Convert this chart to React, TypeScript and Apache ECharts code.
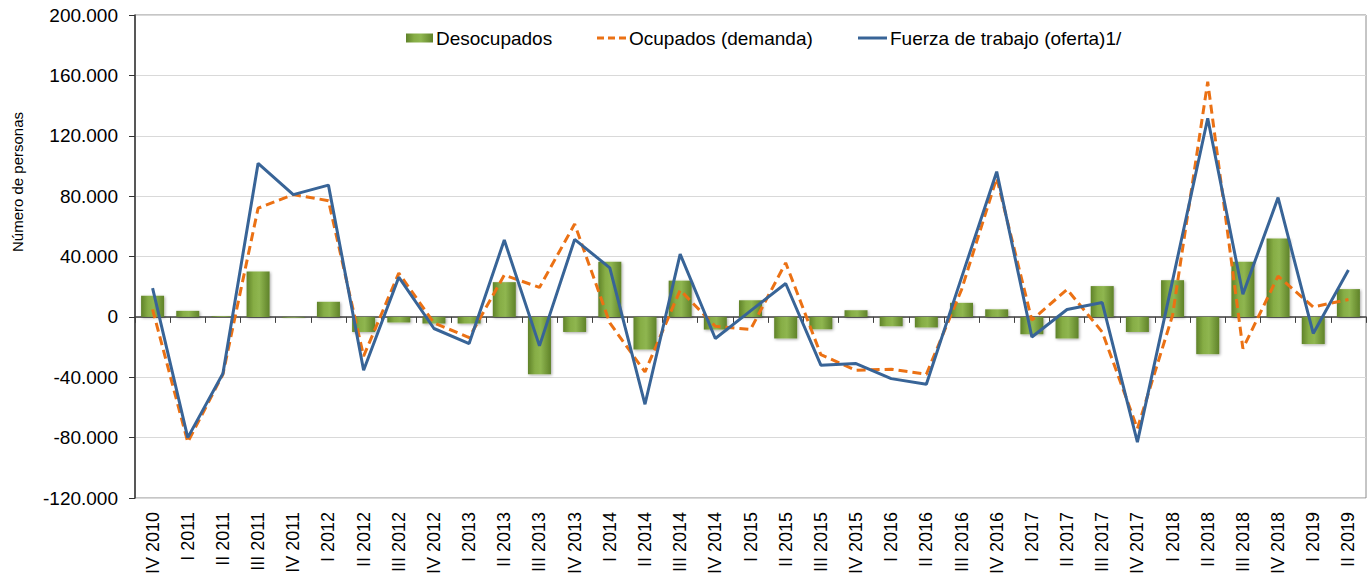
import React, { useEffect, useRef } from "react";
import * as echarts from "echarts";

const categories = [
  "IV 2010", "I 2011", "II 2011", "III 2011", "IV 2011",
  "I 2012", "II 2012", "III 2012", "IV 2012",
  "I 2013", "II 2013", "III 2013", "IV 2013",
  "I 2014", "II 2014", "III 2014", "IV 2014",
  "I 2015", "II 2015", "III 2015", "IV 2015",
  "I 2016", "II 2016", "III 2016", "IV 2016",
  "I 2017", "II 2017", "III 2017", "IV 2017",
  "I 2018", "II 2018", "III 2018", "IV 2018",
  "I 2019", "II 2019",
];

const seriesNames = ["Desocupados", "Ocupados (demanda)", "Fuerza de trabajo (oferta)1/"];

const desocupados = [
  14, 4, 0.5, 30, -0.5,
  10, -10, -3.7, -4.4,
  -4.4, 23, -38, -10,
  36.5, -21.6, 24, -8.4,
  11, -14.3, -8.2, 4.4,
  -6.2, -7, 9.3, 5,
  -11.5, -14.3, 20.4, -10,
  24.3, -24.7, 36.5, 52,
  -18, 18.4,
];

const ocupados = [
  5, -83, -38, 72, 81,
  77, -26, 29, -4,
  -13.7, 27.7, 19.5, 61.5,
  -4, -36.5, 17.7, -6.2,
  -8.4, 35.8, -25, -35.4,
  -34.7, -38, 18, 92,
  -2.2, 18.2, -10, -74,
  1, 155.8, -21, 27,
  6.6, 11.5,
];

const fuerza = [
  19, -80, -37.5, 101.7, 81,
  87.3, -35.3, 26.3, -7.7,
  -17.7, 50.9, -19.2, 51.3,
  32.5, -57.9, 41.6, -14.3,
  4, 22.1, -32, -30.9,
  -40.9, -44.6, 26, 96.2,
  -13.3, 4.9, 9.5, -83,
  24, 131.6, 15, 79,
  -11, 31,
];

const yTicks = { min: -120, max: 200, interval: 40 };

const fmt = (v: number) => {
  if (v === 0) return "0";
  const s = Math.abs(v).toFixed(0);
  return (v < 0 ? "-" : "") + s + ".000";
};

const FONT = "'Liberation Sans', Arial, sans-serif";
const ORANGE = "#eb7114";
const BLUE = "#386497";

export default function App() {
  const ref = useRef<HTMLDivElement>(null);
  useEffect(() => {
    if (!ref.current) return;
    const chart = echarts.init(ref.current, undefined, { renderer: "svg" });
    const barGrad = new echarts.graphic.LinearGradient(0, 0, 1, 0, [
      { offset: 0, color: "#5f8229" },
      { offset: 0.3, color: "#86ad45" },
      { offset: 0.55, color: "#8fb650" },
      { offset: 1, color: "#5f8229" },
    ]);
    const legendY = 38;
    const legendText = (x: number, text: string) => ({
      type: "text",
      x,
      y: legendY,
      style: {
        text,
        fontSize: 19,
        fontFamily: FONT,
        fill: "#000",
        align: "left",
        verticalAlign: "middle",
      },
    });
    chart.setOption({
      animation: false,
      textStyle: { fontFamily: FONT },
      grid: {
        left: 135,
        right: 3,
        top: 15,
        bottom: 77,
        outerBoundsMode: "none",
        containLabel: false,
        show: true,
        borderColor: "#8c8c8c",
        borderWidth: 1,
        backgroundColor: "transparent",
      },
      legend: { show: false, data: seriesNames },
      graphic: [
        {
          type: "text",
          x: 10,
          y: 182,
          rotation: Math.PI / 2,
          style: {
            text: "Número de personas",
            fontSize: 15,
            fontFamily: FONT,
            fill: "#000",
            align: "center",
            verticalAlign: "top",
          },
        },
        {
          type: "rect",
          shape: { x: 406, y: legendY - 4.5, width: 27, height: 9 },
          style: { fill: barGrad },
        },
        legendText(436, seriesNames[0]),
        {
          type: "line",
          shape: { x1: 597, y1: legendY, x2: 627, y2: legendY },
          style: { stroke: ORANGE, lineWidth: 3, lineDash: [7, 4] },
        },
        legendText(629, seriesNames[1]),
        {
          type: "line",
          shape: { x1: 858, y1: legendY, x2: 887, y2: legendY },
          style: { stroke: BLUE, lineWidth: 3 },
        },
        legendText(890, seriesNames[2]),
      ],
      xAxis: [
        {
          type: "category",
          data: categories,
          position: "bottom",
          axisLine: { show: false, onZero: false },
          axisTick: { show: false },
          axisLabel: {
            rotate: 90,
            interval: 0,
            fontSize: 18,
            color: "#000",
            fontFamily: FONT,
            margin: 14,
          },
          splitLine: { show: false },
        },
        {
          type: "category",
          data: categories,
          position: "bottom",
          axisLine: { show: true, onZero: true, lineStyle: { color: "#404040", width: 1.5 } },
          axisTick: { show: true, length: 6, interval: 0, lineStyle: { color: "#404040" } },
          axisLabel: { show: false },
          splitLine: { show: false },
        },
      ],
      yAxis: {
        type: "value",
        min: yTicks.min,
        max: yTicks.max,
        interval: yTicks.interval,
        axisLine: { show: true, lineStyle: { color: "#333", width: 1.5 } },
        axisTick: { show: true, length: 6, lineStyle: { color: "#333" } },
        axisLabel: {
          fontSize: 19,
          color: "#000",
          fontFamily: FONT,
          margin: 17,
          formatter: fmt,
        },
        splitLine: { show: true, lineStyle: { color: "#d9d9d9", width: 1 } },
      },
      series: [
        {
          name: seriesNames[0],
          type: "bar",
          xAxisIndex: 0,
          data: desocupados,
          barWidth: 23,
          itemStyle: {
            color: barGrad,
            shadowColor: "rgba(0,0,0,0.35)",
            shadowBlur: 3,
            shadowOffsetX: 1,
            shadowOffsetY: 1,
          },
          z: 2,
        },
        {
          name: seriesNames[1],
          type: "line",
          xAxisIndex: 0,
          data: ocupados,
          symbol: "none",
          itemStyle: { color: ORANGE },
          lineStyle: { color: ORANGE, width: 3, type: [9, 5] },
          z: 3,
        },
        {
          name: seriesNames[2],
          type: "line",
          xAxisIndex: 0,
          data: fuerza,
          symbol: "none",
          itemStyle: { color: BLUE },
          lineStyle: { color: BLUE, width: 3 },
          z: 4,
        },
      ],
    });
    return () => chart.dispose();
  }, []);
  return (
    <div
      ref={ref}
      style={{ position: "fixed", left: 0, top: 0, width: 1369, height: 575, background: "#fff" }}
    />
  );
}
